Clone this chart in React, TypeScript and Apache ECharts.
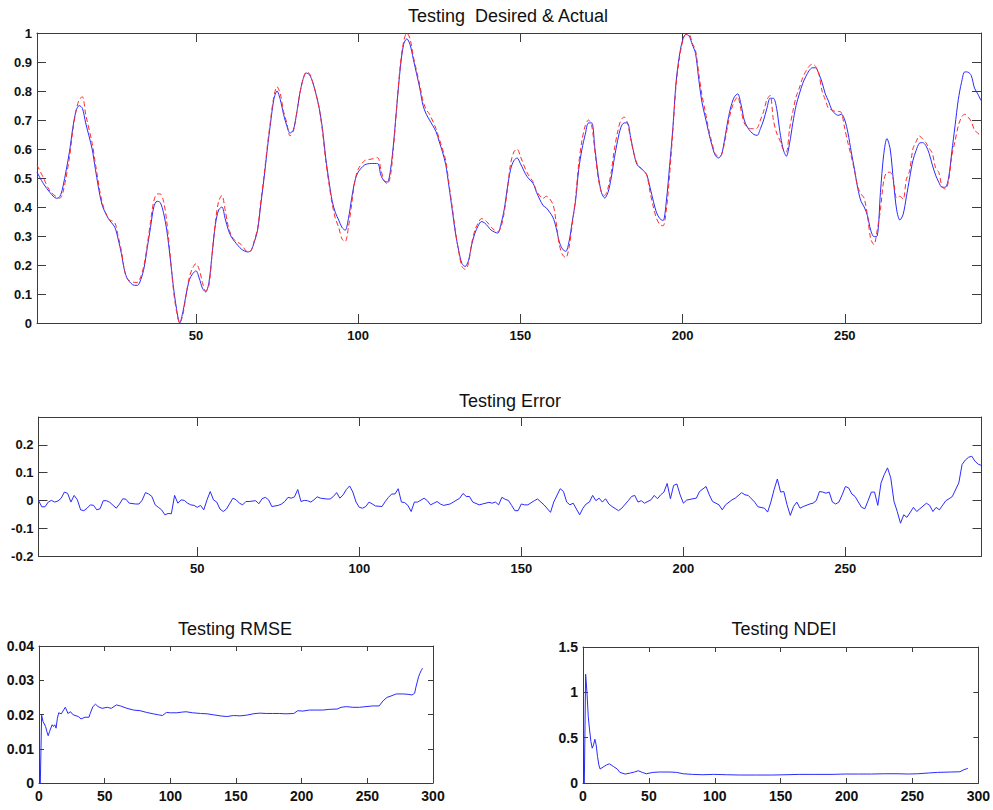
import React, { useEffect, useRef } from "react";
import * as echarts from "echarts";

// ---------- Data: Testing Desired (blue) & Actual (red dashed) ----------
const topX = [
  1, 3, 5, 7, 8, 9, 11, 12, 13, 14, 15, 16, 18, 19, 21, 23, 25, 26, 27, 28, 29, 31, 32, 33, 34, 35, 36, 37, 38, 39,
  40, 41, 42, 43, 44, 45, 46, 47, 48, 49, 50, 51, 52, 53, 54, 55, 56, 57, 58, 59, 60, 61, 62, 64, 66, 67, 68, 69, 70,
  71, 72, 73, 74, 75, 76, 77, 78, 79, 80, 81, 82, 83, 84, 85, 86, 87, 88, 89, 90, 91, 92, 93, 94, 95, 96, 97, 98, 99,
  100, 102, 104, 106, 107, 108, 109, 110, 111, 112, 113, 114, 115, 116, 117, 118, 119, 120, 121, 122, 124, 125, 126,
  127, 128, 129, 130, 131, 132, 133, 134, 135, 136, 137, 138, 139, 140, 141, 143, 144, 145, 146, 147, 148, 149, 150,
  152, 154, 155, 157, 158, 160, 161, 162, 163, 164, 165, 166, 167, 168, 169, 170, 171, 172, 173, 174, 175, 176, 177,
  178, 179, 180, 181, 182, 183, 184, 185, 186, 188, 189, 190, 191, 192, 193, 194, 195, 196, 197, 198, 199, 200, 201,
  202, 203, 204, 205, 206, 207, 208, 209, 210, 211, 212, 213, 214, 215, 216, 217, 218, 219, 220, 221, 222, 223, 224,
  225, 226, 227, 228, 229, 230, 231, 232, 233, 234, 235, 236, 237, 238, 239, 240, 241, 242, 243, 244, 245, 246, 247,
  248, 249, 250, 251, 252, 253, 254, 255, 256, 257, 258, 259, 260, 261, 262, 263, 264, 265, 266, 267, 268, 269, 270,
  271, 272, 273, 274, 275, 276, 277, 278, 279, 280, 281, 282, 283, 284, 285, 286, 287, 288, 289, 290, 291, 292,
];
const desiredVals = [
  0.52, 0.48, 0.45, 0.43, 0.435, 0.47, 0.59, 0.67, 0.73, 0.75, 0.74, 0.69, 0.6, 0.53, 0.41, 0.36, 0.33, 0.29, 0.24,
  0.18, 0.15, 0.13, 0.13, 0.15, 0.19, 0.26, 0.33, 0.4, 0.42, 0.415, 0.38, 0.32, 0.23, 0.13, 0.05, 0.0, 0.04, 0.1, 0.15,
  0.17, 0.18, 0.155, 0.12, 0.107, 0.14, 0.24, 0.34, 0.39, 0.4, 0.36, 0.32, 0.295, 0.28, 0.255, 0.245, 0.25, 0.28, 0.32,
  0.41, 0.5, 0.6, 0.69, 0.77, 0.8, 0.77, 0.72, 0.68, 0.655, 0.665, 0.72, 0.79, 0.84, 0.862, 0.856, 0.83, 0.79, 0.74,
  0.67, 0.57, 0.49, 0.42, 0.38, 0.355, 0.33, 0.32, 0.36, 0.43, 0.49, 0.52, 0.545, 0.55, 0.55, 0.51, 0.49, 0.486, 0.53,
  0.63, 0.76, 0.88, 0.96, 0.98, 0.96, 0.91, 0.86, 0.81, 0.75, 0.72, 0.7, 0.66, 0.625, 0.59, 0.546, 0.47, 0.39, 0.31,
  0.25, 0.205, 0.195, 0.215, 0.27, 0.31, 0.335, 0.35, 0.345, 0.333, 0.32, 0.31, 0.34, 0.39, 0.466, 0.53, 0.56, 0.569,
  0.55, 0.506, 0.48, 0.45, 0.405, 0.397, 0.365, 0.33, 0.28, 0.255, 0.247, 0.28, 0.35, 0.42, 0.53, 0.6, 0.65, 0.69,
  0.69, 0.6, 0.51, 0.45, 0.431, 0.45, 0.5, 0.57, 0.63, 0.675, 0.69, 0.69, 0.64, 0.585, 0.546, 0.525, 0.51, 0.466, 0.42,
  0.38, 0.36, 0.353, 0.42, 0.54, 0.67, 0.83, 0.92, 0.975, 0.995, 0.99, 0.96, 0.93, 0.84, 0.76, 0.71, 0.66, 0.615, 0.58,
  0.569, 0.58, 0.635, 0.7, 0.75, 0.78, 0.79, 0.755, 0.7, 0.675, 0.66, 0.65, 0.647, 0.67, 0.7, 0.74, 0.775, 0.775, 0.74,
  0.66, 0.6, 0.575, 0.62, 0.69, 0.75, 0.79, 0.825, 0.85, 0.87, 0.88, 0.88, 0.86, 0.83, 0.79, 0.765, 0.735, 0.722,
  0.716, 0.72, 0.7, 0.655, 0.59, 0.53, 0.465, 0.42, 0.4, 0.37, 0.32, 0.298, 0.3, 0.45, 0.58, 0.636, 0.6, 0.49, 0.39,
  0.355, 0.375, 0.435, 0.5, 0.56, 0.595, 0.62, 0.622, 0.612, 0.585, 0.545, 0.51, 0.485, 0.468, 0.468, 0.5, 0.59, 0.68,
  0.77, 0.83, 0.866, 0.865, 0.853, 0.81, 0.79, 0.767,
];
const actualVals = [
  0.545, 0.5, 0.455, 0.435, 0.43, 0.45, 0.57, 0.66, 0.73, 0.77, 0.78, 0.72, 0.62, 0.55, 0.42, 0.36, 0.345, 0.3, 0.25,
  0.18, 0.15, 0.14, 0.14, 0.16, 0.2, 0.27, 0.35, 0.42, 0.445, 0.445, 0.42, 0.35, 0.24, 0.12, 0.04, 0.0, 0.03, 0.1,
  0.16, 0.19, 0.205, 0.185, 0.14, 0.11, 0.13, 0.24, 0.35, 0.42, 0.44, 0.39, 0.33, 0.3, 0.285, 0.27, 0.245, 0.25, 0.285,
  0.325, 0.42, 0.51, 0.61, 0.7, 0.78, 0.815, 0.79, 0.73, 0.69, 0.645, 0.66, 0.72, 0.79, 0.84, 0.865, 0.86, 0.83, 0.79,
  0.74, 0.66, 0.56, 0.48, 0.41, 0.36, 0.33, 0.29, 0.28, 0.33, 0.41, 0.49, 0.53, 0.56, 0.565, 0.57, 0.53, 0.49, 0.48,
  0.51, 0.62, 0.76, 0.89, 0.97, 1.0, 0.98, 0.92, 0.87, 0.82, 0.765, 0.735, 0.72, 0.67, 0.635, 0.6, 0.56, 0.48, 0.4,
  0.315, 0.245, 0.195, 0.185, 0.205, 0.275, 0.32, 0.345, 0.36, 0.355, 0.345, 0.33, 0.315, 0.33, 0.38, 0.46, 0.55, 0.59,
  0.6, 0.575, 0.52, 0.485, 0.455, 0.43, 0.437, 0.41, 0.35, 0.27, 0.235, 0.225, 0.26, 0.34, 0.43, 0.55, 0.63, 0.68, 0.7,
  0.68, 0.59, 0.5, 0.45, 0.44, 0.465, 0.52, 0.6, 0.66, 0.7, 0.71, 0.69, 0.635, 0.585, 0.55, 0.525, 0.51, 0.45, 0.4,
  0.36, 0.34, 0.335, 0.39, 0.51, 0.66, 0.82, 0.91, 0.97, 0.995, 0.995, 0.965, 0.94, 0.86, 0.785, 0.73, 0.67, 0.625,
  0.585, 0.575, 0.58, 0.625, 0.685, 0.735, 0.765, 0.78, 0.735, 0.69, 0.675, 0.67, 0.67, 0.672, 0.7, 0.73, 0.77, 0.785,
  0.7, 0.655, 0.63, 0.6, 0.59, 0.67, 0.73, 0.78, 0.81, 0.845, 0.868, 0.885, 0.893, 0.885, 0.86, 0.8, 0.77, 0.74, 0.735,
  0.73, 0.73, 0.725, 0.67, 0.62, 0.575, 0.525, 0.47, 0.445, 0.43, 0.37, 0.29, 0.27, 0.32, 0.39, 0.49, 0.519, 0.52,
  0.494, 0.43, 0.437, 0.427, 0.496, 0.525, 0.6, 0.625, 0.645, 0.635, 0.622, 0.603, 0.585, 0.535, 0.519, 0.47, 0.462,
  0.49, 0.576, 0.627, 0.68, 0.71, 0.72, 0.71, 0.695, 0.665, 0.655, 0.644,
];

// ---------- Data: Testing Error ----------
const errX = [
  1, 2, 3, 4, 5, 6, 7, 8, 9, 10, 11, 12, 13, 14, 15, 16, 17, 18, 19, 20, 21, 22, 23, 25, 26, 27, 28, 29, 31, 32, 33, 34,
  35, 36, 37, 38, 39, 40, 41, 42, 43, 44, 45, 46, 47, 48, 49, 50, 51, 52, 53, 54, 55, 56, 57, 58, 59, 61, 62, 63, 64,
  65, 66, 68, 69, 70, 71, 72, 73, 75, 76, 77, 78, 79, 80, 81, 82, 83, 84, 85, 86, 87, 88, 90, 91, 92, 93, 94, 95, 96,
  97, 98, 99, 100, 101, 102, 103, 104, 105, 107, 108, 109, 110, 111, 112, 113, 114, 115, 116, 117, 118, 120, 121, 122,
  123, 124, 125, 126, 128, 129, 131, 132, 133, 134, 135, 137, 138, 140, 141, 142, 143, 144, 145, 146, 147, 148, 149,
  150, 151, 152, 154, 155, 157, 159, 160, 162, 163, 164, 165, 166, 168, 169, 170, 171, 172, 173, 174, 175, 176, 177,
  178, 180, 181, 183, 184, 185, 186, 187, 188, 190, 191, 192, 193, 194, 195, 196, 197, 198, 199, 200, 201, 203, 204,
  205, 207, 208, 209, 211, 212, 213, 215, 216, 218, 219, 220, 222, 223, 225, 226, 227, 228, 229, 230, 231, 232, 233,
  234, 235, 236, 237, 239, 240, 241, 242, 243, 244, 245, 246, 247, 248, 249, 250, 251, 252, 253, 254, 255, 256, 257,
  258, 259, 260, 261, 262, 263, 264, 265, 266, 267, 268, 269, 271, 272, 273, 275, 276, 277, 278, 279, 281, 282, 283,
  285, 286, 287, 288, 289, 290, 291, 292,
];
const errVals = [
  0.0, -0.023, -0.023, -0.006, 0.0, -0.006, -0.002, 0.008, 0.03, 0.025, -0.006, 0.018, 0.002, -0.034, -0.037, -0.028,
  -0.016, -0.018, -0.034, -0.03, -0.001, -0.001, -0.007, -0.028, -0.013, 0.006, 0.004, -0.01, -0.013, -0.013, 0.001,
  0.028, 0.023, 0.014, -0.016, -0.025, -0.034, -0.052, -0.047, -0.048, 0.018, -0.01, 0.002, 0.0, -0.01, -0.016, -0.018,
  -0.025, -0.018, -0.034, 0.002, 0.032, 0.002, -0.006, -0.031, -0.04, -0.031, 0.008, 0.002, -0.01, -0.016, -0.004,
  -0.004, -0.001, -0.012, 0.006, 0.011, 0.002, -0.022, -0.018, -0.013, -0.004, 0.011, 0.008, 0.013, 0.039, -0.004, 0.0,
  -0.001, -0.006, 0.002, 0.013, 0.008, 0.005, 0.005, 0.014, 0.028, 0.008, 0.02, 0.039, 0.052, 0.03, -0.006, -0.025,
  -0.028, -0.022, -0.006, -0.013, -0.02, -0.022, -0.004, 0.011, 0.023, 0.023, 0.042, -0.006, -0.008, -0.018, -0.04,
  -0.006, -0.006, 0.008, -0.001, -0.016, -0.01, -0.004, -0.013, -0.018, -0.013, -0.006, 0.008, 0.025, 0.014, 0.014,
  -0.006, -0.016, -0.013, -0.007, -0.01, -0.006, -0.016, 0.011, 0.004, 0.0, -0.018, -0.037, -0.037, -0.013, -0.016,
  -0.016, -0.001, 0.005, -0.016, -0.043, -0.006, 0.042, 0.032, -0.006, -0.016, -0.01, -0.052, -0.028, -0.013, -0.006,
  0.018, -0.001, 0.008, -0.006, 0.006, -0.013, -0.022, -0.037, -0.028, -0.001, 0.014, 0.018, -0.006, -0.001, -0.01,
  0.002, 0.018, 0.006, 0.02, 0.03, 0.061, 0.006, 0.054, 0.059, 0.02, -0.01, 0.001, 0.006, 0.008, 0.032, 0.05, 0.02,
  -0.004, -0.016, -0.034, -0.016, 0.002, 0.008, 0.028, 0.02, 0.018, -0.006, -0.023, -0.028, -0.042, -0.006, 0.039,
  0.077, 0.03, 0.032, -0.016, -0.054, -0.022, -0.006, -0.028, -0.022, -0.013, -0.01, -0.001, 0.032, 0.03, 0.026, 0.03,
  -0.006, -0.013, -0.006, 0.02, 0.05, 0.045, 0.023, 0.014, -0.006, -0.025, -0.03, -0.001, 0.03, 0.03, -0.018, 0.063,
  0.093, 0.117, 0.081, -0.004, -0.04, -0.082, -0.052, -0.061, -0.025, -0.04, -0.03, -0.01, -0.018, -0.04, -0.025,
  -0.034, -0.001, 0.006, 0.014, 0.063, 0.129, 0.145, 0.155, 0.159, 0.141, 0.13, 0.126,
];

// ---------- Data: Testing RMSE ----------
const rmseX = [
  1, 2, 3, 5, 6, 7, 8, 10, 11, 12, 13, 14, 15, 17, 19, 20, 21, 22, 24, 26, 30, 32, 35, 38, 39, 41, 43, 45, 48, 52, 55,
  59, 62, 67, 72, 77, 82, 87, 91, 94, 97, 100, 105, 109, 112, 117, 123, 128, 133, 138, 143, 148, 153, 158, 163, 168,
  173, 178, 183, 188, 194, 197, 201, 206, 211, 216, 221, 227, 230, 234, 239, 244, 249, 254, 259, 262, 265, 268, 272,
  277, 281, 284, 286, 287, 288, 289, 290, 291, 292,
];
const rmseVals = [
  0.0, 0.0198, 0.018, 0.0165, 0.015, 0.0138, 0.015, 0.017, 0.0165, 0.017, 0.016, 0.0189, 0.0205, 0.0202, 0.0215,
  0.0221, 0.0213, 0.0203, 0.0208, 0.0199, 0.0194, 0.0187, 0.0192, 0.0192, 0.0203, 0.0223, 0.023, 0.0223, 0.0218,
  0.0221, 0.0218, 0.0228, 0.0225, 0.0218, 0.0213, 0.0211, 0.0206, 0.0202, 0.0199, 0.0197, 0.0206, 0.0205, 0.0205,
  0.0207, 0.0208, 0.0205, 0.0203, 0.0202, 0.0199, 0.0196, 0.0194, 0.0197, 0.0196, 0.0198, 0.0202, 0.0204, 0.0203,
  0.0203, 0.0203, 0.0202, 0.0203, 0.0211, 0.021, 0.0213, 0.0213, 0.0213, 0.0215, 0.0216, 0.0221, 0.0223, 0.0221,
  0.0221, 0.0223, 0.0225, 0.0225, 0.024, 0.025, 0.0254, 0.026, 0.026, 0.0259, 0.0257, 0.0262, 0.028, 0.0295, 0.031,
  0.032, 0.0328, 0.0335,
];

// ---------- Data: Testing NDEI ----------
const ndeiX = [
  1, 2, 3, 4, 5, 6, 7, 8, 9, 10, 11, 12, 13, 16, 18, 20, 23, 26, 28, 32, 36, 39, 42, 45, 48, 53, 58, 66, 71, 76, 83, 91,
  99, 109, 119, 131, 144, 154, 164, 176, 189, 199, 209, 219, 229, 239, 247, 254, 262, 269, 279, 286, 289, 292,
];
const ndeiVals = [
  0.0, 1.2, 1.0, 0.73, 0.585, 0.457, 0.384, 0.42, 0.483, 0.42, 0.293, 0.2, 0.154, 0.183, 0.2, 0.212, 0.183, 0.154,
  0.117, 0.099, 0.11, 0.121, 0.135, 0.117, 0.102, 0.117, 0.121, 0.121, 0.117, 0.102, 0.095, 0.091, 0.095, 0.091, 0.088,
  0.088, 0.088, 0.091, 0.095, 0.095, 0.095, 0.099, 0.099, 0.099, 0.102, 0.102, 0.099, 0.102, 0.11, 0.117, 0.121, 0.124,
  0.146, 0.161,
];

// ---------- Tick values ----------
const seqTicks = [50, 100, 150, 200, 250];
const topYTicks = [0, 0.1, 0.2, 0.3, 0.4, 0.5, 0.6, 0.7, 0.8, 0.9, 1];
const errYTicks = [-0.2, -0.1, 0, 0.1, 0.2];
const runTicks = [0, 50, 100, 150, 200, 250, 300];
const rmseYTicks = [0, 0.01, 0.02, 0.03, 0.04];
const ndeiYTicks = [0, 0.5, 1, 1.5];

const FONT = "'Liberation Sans', Arial, Helvetica, sans-serif";
const AXIS_COLOR = "#3c3c3c";
const BLUE = "#2a2aff";
const RED = "#ff2a2a";

const zip = (xs: number[], ys: number[]) => xs.map((x, i) => [x, ys[i]]);

function axis(
  kind: "x" | "y",
  gridIndex: number,
  min: number,
  max: number,
  ticks: number[],
  tickLen: number,
  primary: boolean,
  fontSize: number,
) {
  return {
    type: "value",
    gridIndex,
    min,
    max,
    position: kind === "x" ? (primary ? "bottom" : "top") : primary ? "left" : "right",
    axisLine: { show: true, onZero: false, lineStyle: { color: AXIS_COLOR, width: 1 } },
    axisTick: {
      show: true,
      inside: true,
      length: tickLen,
      customValues: ticks,
      lineStyle: { color: AXIS_COLOR, width: 1 },
    },
    axisLabel: {
      show: primary,
      customValues: ticks,
      margin: kind === "x" ? 6 : 5,
      fontSize,
      fontWeight: "bold",
      color: "#111",
      fontFamily: FONT,
    },
    splitLine: { show: false },
  };
}

export default function App() {
  const ref = useRef<HTMLDivElement>(null);

  useEffect(() => {
    if (!ref.current) return;
    const chart = echarts.init(ref.current, undefined, { renderer: "svg" });

    const grids = [
      { left: 37, top: 33, width: 944, height: 290 },
      { left: 38.5, top: 417, width: 943, height: 139 },
      { left: 39, top: 646, width: 394, height: 137 },
      { left: 583, top: 647, width: 398, height: 136 },
    ];

    const xAxes = [
      axis("x", 0, 1, 292, seqTicks, 9, true, 13),
      axis("x", 0, 1, 292, seqTicks, 9, false, 13),
      axis("x", 1, 1, 292, seqTicks, 9, true, 13),
      axis("x", 1, 1, 292, seqTicks, 9, false, 13),
      axis("x", 2, 0, 300, runTicks, 5, true, 14),
      axis("x", 2, 0, 300, runTicks, 5, false, 14),
      axis("x", 3, 0, 300, runTicks, 5, true, 14),
      axis("x", 3, 0, 300, runTicks, 5, false, 14),
    ];
    const yAxes = [
      axis("y", 0, 0, 1, topYTicks, 9, true, 13),
      axis("y", 0, 0, 1, topYTicks, 9, false, 13),
      axis("y", 1, -0.2, 0.3, errYTicks, 9, true, 13),
      axis("y", 1, -0.2, 0.3, errYTicks, 9, false, 13),
      axis("y", 2, 0, 0.04, rmseYTicks, 5, true, 14),
      axis("y", 2, 0, 0.04, rmseYTicks, 5, false, 14),
      axis("y", 3, 0, 1.5, ndeiYTicks, 5, true, 14),
      axis("y", 3, 0, 1.5, ndeiYTicks, 5, false, 14),
    ];

    const line = (name: string, data: number[][], xi: number, yi: number, color: string, dashed = false, smooth = 0) => ({
      name,
      type: "line",
      xAxisIndex: xi,
      yAxisIndex: yi,
      data,
      showSymbol: false,
      symbol: "none",
      smooth,
      clip: true,
      lineStyle: { color, width: 1, type: dashed ? [5, 3] : "solid" },
    });

    const titleStyle = { fontSize: 18, fill: "#111", fontFamily: FONT, align: "center", verticalAlign: "middle" };

    chart.setOption({
      animation: false,
      backgroundColor: "#ffffff",
      grid: grids,
      xAxis: xAxes,
      yAxis: yAxes,
      series: [
        line("Desired", zip(topX, desiredVals), 0, 0, BLUE, false, 0.3),
        line("Actual", zip(topX, actualVals), 0, 0, RED, true, 0.3),
        line("Error", zip(errX, errVals), 2, 2, BLUE),
        line("RMSE", zip(rmseX, rmseVals), 4, 4, BLUE),
        line("NDEI", zip(ndeiX, ndeiVals), 6, 6, BLUE),
      ],
      graphic: [
        { type: "text", x: 508, y: 16, style: { ...titleStyle, text: "Testing  Desired & Actual" } },
        { type: "text", x: 510, y: 401, style: { ...titleStyle, text: "Testing Error" } },
        { type: "text", x: 235, y: 629, style: { ...titleStyle, text: "Testing RMSE" } },
        { type: "text", x: 784, y: 629, style: { ...titleStyle, text: "Testing NDEI" } },
      ],
    });

    return () => chart.dispose();
  }, []);

  return (
    <div
      ref={ref}
      style={{ position: "fixed", left: 0, top: 0, width: 993, height: 810, background: "#fff" }}
    />
  );
}
